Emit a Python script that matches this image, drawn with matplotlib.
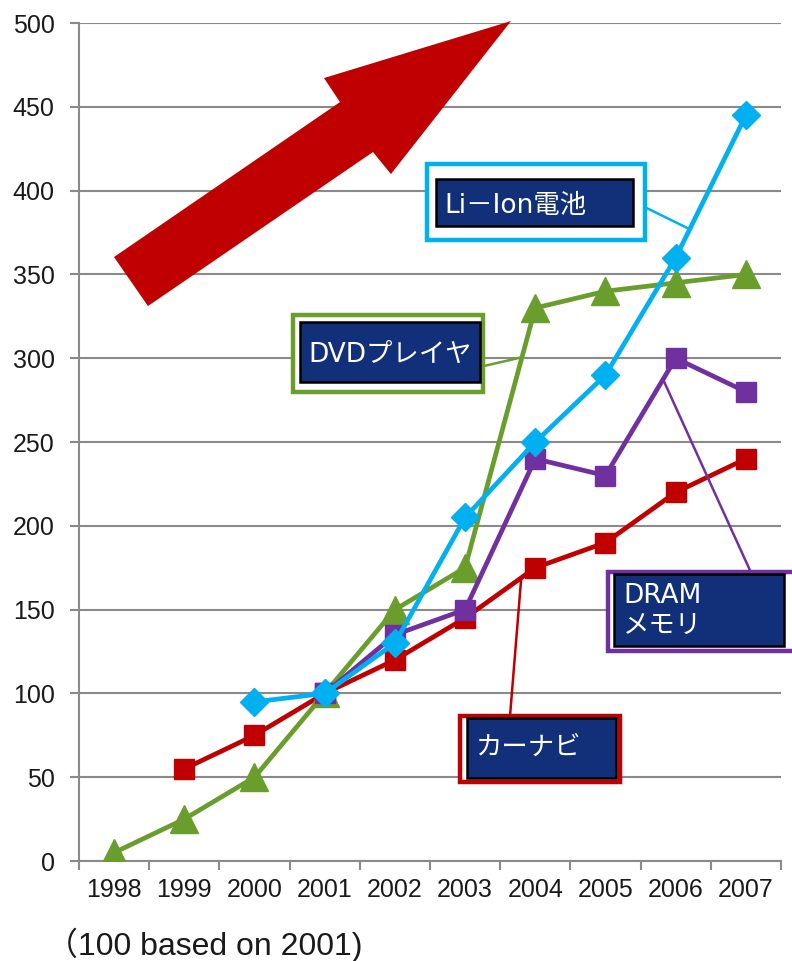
import matplotlib
matplotlib.use('Agg')
import matplotlib.pyplot as plt
from matplotlib.patches import Rectangle, Polygon

plt.rcParams['font.family'] = ['Liberation Sans', 'Noto Sans CJK JP', 'DejaVu Sans']

# index values, 2001 = 100
years = ['1998', '1999', '2000', '2001', '2002', '2003', '2004', '2005', '2006', '2007']
carnavi = [None, 55, 75, 100, 120, 145, 175, 190, 220, 240]
dvd = [5, 25, 50, 100, 150, 175, 330, 340, 345, 350]
dram = [None, None, None, 100, 135, 150, 240, 230, 300, 280]
liion = [None, None, 95, 100, 130, 205, 250, 290, 360, 445]

RED = '#C00000'
GREEN = '#6A9E2C'
PURPLE = '#7030A0'
BLUE = '#00B0F0'
NAVY = '#12307A'
GRID = '#8A8A8A'


def series(vals):
    xs = [i for i, v in enumerate(vals) if v is not None]
    ys = [v for v in vals if v is not None]
    return xs, ys


def callout(ax, text, color, outer, inner, text_xy, leader):
    x0, y0, x1, y1 = outer
    ax.add_patch(Rectangle((x0, y0), x1 - x0, y1 - y0, facecolor='white',
                           edgecolor=color, lw=3.2, zorder=6, clip_on=False))
    x0, y0, x1, y1 = inner
    ax.add_patch(Rectangle((x0, y0), x1 - x0, y1 - y0, facecolor=NAVY,
                           edgecolor='black', lw=1.8, zorder=7, clip_on=False))
    ax.text(text_xy[0], text_xy[1], text, color='white', fontsize=19,
            family=['DejaVu Sans', 'Noto Sans CJK JP'], ha='left', va='center',
            linespacing=1.2, zorder=8)
    lx, ly = zip(*leader)
    ax.plot(lx, ly, color=color, lw=1.8, zorder=5, solid_capstyle='butt')


fig = plt.figure(figsize=(7.92, 9.61), dpi=100)
ax = fig.add_axes([0.0997, 0.104, 0.8864, 0.872])

x, y = series(carnavi)
ax.plot(x, y, color=RED, lw=3.4, marker='s', ms=14.5, zorder=3)
x, y = series(dvd)
ax.plot(x, y, color=GREEN, lw=3.4, marker='^', ms=20, zorder=3.1)
x, y = series(dram)
ax.plot(x, y, color=PURPLE, lw=3.4, marker='s', ms=14.5, zorder=3.2)
x, y = series(liion)
ax.plot(x, y, color=BLUE, lw=3.4, marker='D', ms=14.5, zorder=3.3)

ax.set_xlim(-0.5, len(years) - 0.5)
ax.set_ylim(0, 500)
ax.set_yticks(range(0, 501, 50))
ax.yaxis.grid(True, color=GRID, lw=1.5, zorder=0)
ax.set_axisbelow(True)

ax.set_xticks([i - 0.5 for i in range(len(years) + 1)])
ax.set_xticklabels([])
ax.set_xticks(range(len(years)), minor=True)
ax.set_xticklabels(years, minor=True)
ax.tick_params(axis='x', which='major', length=6.5, width=1.5, color=GRID)
ax.tick_params(axis='x', which='minor', length=0, pad=12, labelsize=18, labelcolor='#1a1a1a')
ax.tick_params(axis='y', length=6.5, width=1.5, color=GRID, pad=11,
               labelsize=18, labelcolor='#1a1a1a')

for side in ['top', 'right']:
    ax.spines[side].set_visible(False)
for side in ['left', 'bottom']:
    ax.spines[side].set_color(GRID)
    ax.spines[side].set_linewidth(1.5)

# big trend arrow, axes fraction
arrow = [(0.0499, 0.7208), (0.3718, 0.9057), (0.3490, 0.9344), (0.6154, 1.0024),
         (0.4444, 0.8198), (0.4188, 0.8461), (0.0983, 0.6623)]
ax.add_patch(Polygon(arrow, closed=True, transform=ax.transAxes, facecolor=RED,
                     edgecolor='none', zorder=1, clip_on=False))

callout(ax, 'Li－Ion電池', BLUE,
        (4.46, 370.5, 7.56, 415.9), (4.585, 378.9, 7.39, 406.9), (4.71, 391),
        [(7.56, 390.2), (8.2, 377)])
callout(ax, 'DVDプレイヤ', GREEN,
        (2.55, 279.8, 5.26, 325.8), (2.65, 285.8, 5.21, 321.6), (2.77, 302),
        [(5.26, 295.3), (5.81, 300.6)])
callout(ax, 'DRAM\nメモリ', PURPLE,
        (7.04, 125.3, 10.3, 172.4), (7.12, 128.3, 9.54, 171.2), (7.25, 149),
        [(9.07, 172.4), (7.82, 287.4)])
callout(ax, 'カーナビ', RED,
        (4.93, 47.1, 7.21, 86.5), (5.03, 49.5, 7.15, 85.3), (5.14, 67.4),
        [(5.64, 86.5), (5.80, 169)])

fig.text(0.058, 0.0166, '（100 based on 2001)', fontsize=23, color='#1a1a1a',
         va='center', ha='left')

fig.savefig('out.png', dpi=100)
